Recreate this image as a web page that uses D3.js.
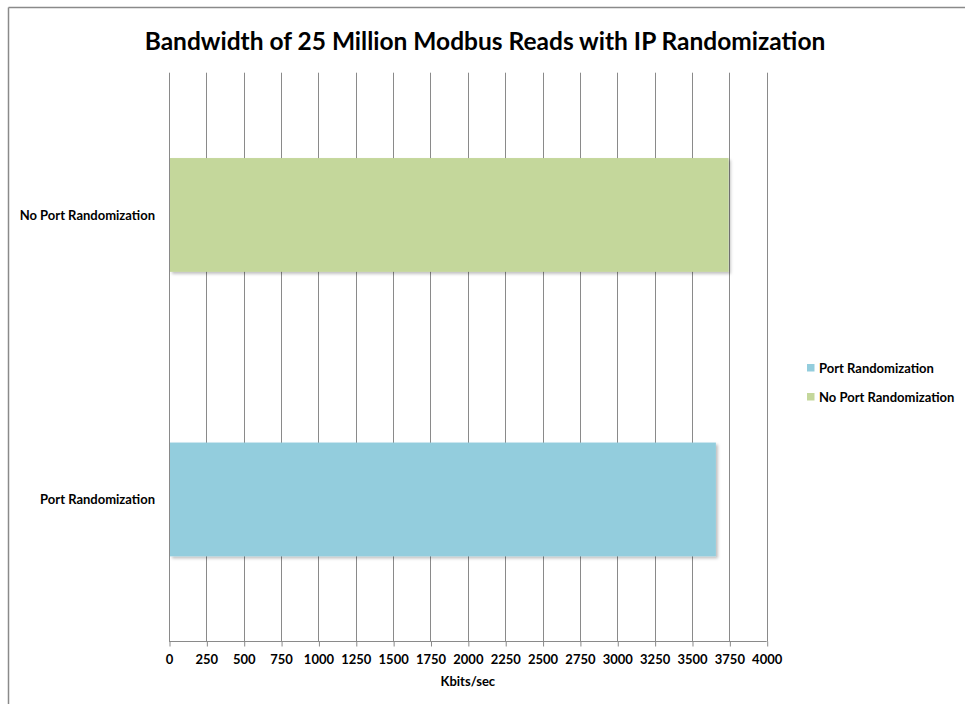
<!DOCTYPE html>
<html>
<head>
<meta charset="utf-8">
<script src="https://cdn.jsdelivr.net/npm/d3@7"></script>
<style>
  html, body { margin: 0; padding: 0; background: #fff; }
  svg { display: block; font-family: Lato, "Open Sans", sans-serif; }
</style>
</head>
<body>
<svg id="chart" width="965" height="704"></svg>
<script>
// Bandwidth by configuration (Kbits/sec), top-to-bottom order
const categories = ["No Port Randomization", "Port Randomization"];
const values = [3745, 3660];
const barColors = ["#C4D79B", "#93CDDD"];
// Legend lists series in the reverse order
const legendLabels = ["Port Randomization", "No Port Randomization"];
const legendColors = ["#93CDDD", "#C4D79B"];
const tickValues = d3.range(0, 4001, 250);
const titleText = "Bandwidth of 25 Million Modbus Reads with IP Randomization";
const axisTitle = "Kbits/sec";

const svg = d3.select("#chart");
const gridColor = "#8a8a8a";
const labelSize = 13;

// Outer chart frame (top and left edges visible)
svg.append("line").attr("x1", 8.5).attr("x2", 965).attr("y1", 7.5).attr("y2", 7.5)
  .attr("stroke", gridColor).attr("stroke-width", 1.5);
svg.append("line").attr("x1", 8.5).attr("x2", 8.5).attr("y1", 7.5).attr("y2", 704)
  .attr("stroke", gridColor).attr("stroke-width", 1.5);

// Soft drop shadow for bars
const defs = svg.append("defs");
const f = defs.append("filter").attr("id", "shadow")
  .attr("x", "-5%").attr("y", "-5%").attr("width", "115%").attr("height", "115%");
f.append("feDropShadow").attr("dx", 2).attr("dy", 2).attr("stdDeviation", 1.5)
  .attr("flood-color", "#000").attr("flood-opacity", 0.25);

const x = d3.scaleLinear().domain([0, 4000]).range([169, 766.7]);
const y = d3.scaleBand().domain(categories).range([72.7, 641.7])
  .paddingInner(0.6).paddingOuter(0.3);

// Vertical gridlines
svg.append("g").selectAll("line").data(tickValues).join("line")
  .attr("x1", d => Math.round(x(d)) + 0.5).attr("x2", d => Math.round(x(d)) + 0.5)
  .attr("y1", 72.7).attr("y2", 641.7)
  .attr("stroke", gridColor).attr("stroke-width", 1);

// Bars
svg.append("g").selectAll("rect").data(categories).join("rect")
  .attr("x", x(0) + 1)
  .attr("y", d => y(d))
  .attr("width", (d, i) => x(values[i]) - x(0) - 1)
  .attr("height", y.bandwidth())
  .attr("fill", (d, i) => barColors[i])
  .attr("filter", "url(#shadow)");

// X axis
const xAxis = d3.axisBottom(x).tickValues(tickValues).tickSize(5).tickPadding(8)
  .tickFormat(d3.format("d"));
const gx = svg.append("g").attr("transform", "translate(0,641.5)").call(xAxis);
gx.select(".domain").attr("stroke", gridColor).attr("d", `M${x(0)},0H${x(4000)}`);
gx.selectAll(".tick line").attr("stroke", gridColor).attr("transform", "translate(0.5,0)");
gx.selectAll(".tick text").attr("fill", "#000").attr("font-size", labelSize)
  .attr("font-weight", "bold").attr("font-family", "Lato, sans-serif");

svg.append("text").attr("x", x(2000)).attr("y", 686)
  .attr("text-anchor", "middle").attr("font-size", labelSize).attr("font-weight", "bold")
  .text(axisTitle);

// Category labels
svg.append("g").selectAll("text").data(categories).join("text")
  .attr("x", 155).attr("y", d => y(d) + y.bandwidth() / 2)
  .attr("dy", "0.35em").attr("text-anchor", "end")
  .attr("font-size", labelSize).attr("font-weight", "bold")
  .text(d => d);

// Title
svg.append("text").attr("x", 485).attr("y", 50)
  .attr("text-anchor", "middle").attr("font-size", 24.5).attr("font-weight", "bold")
  .text(titleText);

// Legend
const lg = svg.append("g").selectAll("g").data(legendLabels).join("g")
  .attr("transform", (d, i) => `translate(807,${368 + i * 29})`);
lg.append("rect").attr("x", 0).attr("y", -4).attr("width", 7.5).attr("height", 7.5)
  .attr("fill", (d, i) => legendColors[i]);
lg.append("text").attr("x", 12).attr("y", 0).attr("dy", "0.35em")
  .attr("font-size", labelSize).attr("font-weight", "bold").text(d => d);
</script>
</body>
</html>
